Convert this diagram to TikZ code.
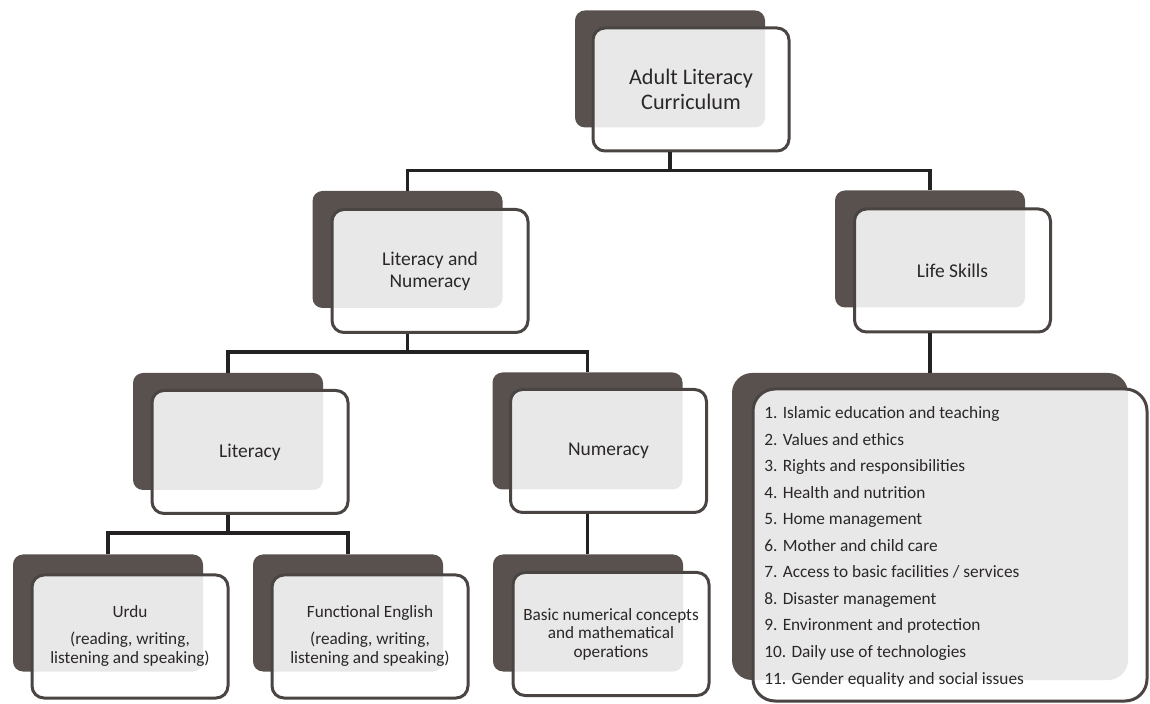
\documentclass[tikz,border=0pt]{standalone}
\usepackage{fontspec}
\setmainfont{Carlito}
\definecolor{backc}{RGB}{89,81,78}
\definecolor{borderc}{RGB}{74,68,66}
\definecolor{linec}{RGB}{35,33,33}
\definecolor{textc}{RGB}{42,40,39}
\begin{document}
\begin{tikzpicture}[x=0.5pt,y=-0.5pt,
 backbox/.style={fill=backc, draw=none, rounded corners=5pt, inner sep=0pt, minimum width=95pt, minimum height=58.5pt},
 frontbox/.style={draw=borderc, line width=1.5pt, fill=white, fill opacity=0.87, text opacity=1, rounded corners=6pt, inner sep=0pt, minimum width=98pt, minimum height=61.5pt, align=center, text=textc, font=\fontsize{9.75}{11}\selectfont},
 smalltext/.style={font=\fontsize{8.6}{9.5}\selectfont},
 listtext/.style={text=textc, inner sep=0pt, font=\fontsize{8.65}{10}\selectfont},
 conn/.style={draw=linec, line width=1.6pt}]
\useasboundingbox (0,0) rectangle (1150,704);
% top
\node[backbox] (topb) at (670,69) {};
\node[frontbox, font=\fontsize{11.1}{12.5}\selectfont] (top) at (691,89.5) {Adult Literacy\\Curriculum};
% second level
\node[backbox] (lnb) at (407.5,249.5) {};
\node[frontbox] (ln) at (430,271) {Literacy and\\Numeracy};
\node[backbox] (lsb) at (930,249) {};
\node[frontbox] (ls) at (952.5,270.5) {Life Skills};
% third level
\node[backbox] (litb) at (228,431.5) {};
\node[frontbox] (lit) at (250,452) {Literacy};
\node[backbox] (numb) at (587.5,431) {};
\node[frontbox] (num) at (608.5,451) {Numeracy};
% list box
\node[backbox, rounded corners=10pt, minimum width=198pt, minimum height=153.5pt] (listb) at (930,526.5) {};
\node[frontbox, rounded corners=11pt, minimum width=197pt, minimum height=156pt] (list) at (950,545) {};
\foreach \t [count=\i] in {1. Islamic education and teaching, 2. Values and ethics, 3. Rights and responsibilities, 4. Health and nutrition, 5. Home management, 6. Mother and child care, 7. Access to basic facilities / services, 8. Disaster management, 9. Environment and protection, 10. Daily use of technologies, 11. Gender equality and social issues}
  \node[listtext, anchor=base west] (li\i) at (764,{419+26.5*(\i-1)}) {\t};
% bottom level
\node[backbox] (urdub) at (108,613) {};
\node[frontbox, smalltext] (urdu) at (130,636.5) {Urdu\\[4pt](reading, writing,\\listening and speaking)};
\node[backbox] (feb) at (348,613) {};
\node[frontbox, smalltext] (fe) at (370,636.5) {Functional English\\[4pt](reading, writing,\\listening and speaking)};
\node[backbox] (basicb) at (588,613) {};
\node[frontbox, font=\fontsize{8.6}{9.25}\selectfont] (basic) at (611,634) {Basic numerical concepts\\and mathematical\\operations};
% connectors
\draw[conn] (topb |- top.south) -- ++(0,18) -| (lnb.north);
\draw[conn] (topb |- top.south) -- ++(0,18) -| (lsb.north);
\draw[conn] (lnb |- ln.south) -- ++(0,18) -| (litb.north);
\draw[conn] (lnb |- ln.south) -- ++(0,18) -| (numb.north);
\draw[conn] (litb |- lit.south) -- ++(0,18) -| (urdub.north);
\draw[conn] (litb |- lit.south) -- ++(0,18) -| (feb.north);
\draw[conn] (numb |- num.south) -- (numb |- basicb.north);
\draw[conn] (lsb |- ls.south) -- (listb.north);
\end{tikzpicture}
\end{document}
